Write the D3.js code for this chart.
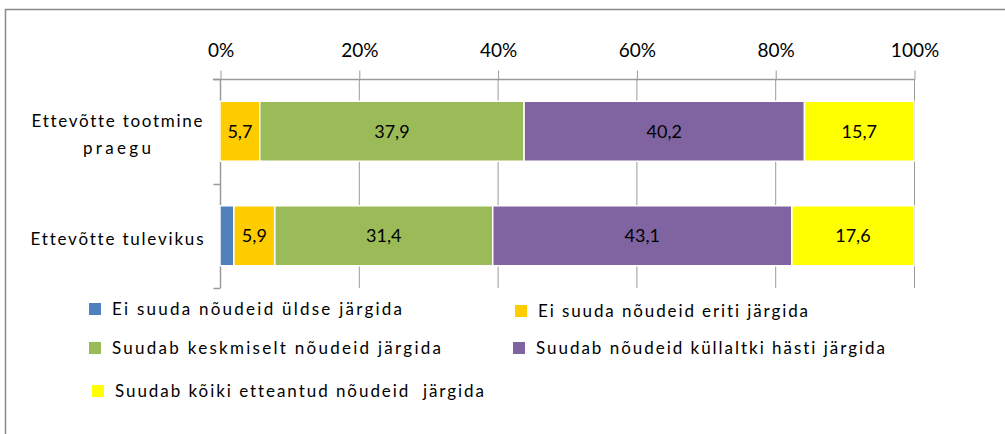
<!DOCTYPE html>
<html>
<head>
<meta charset="utf-8">
<script src="https://cdn.jsdelivr.net/npm/d3@7"></script>
<style>
  html, body { margin: 0; padding: 0; background: #fff; }
  svg { display: block; font-family: Lato, "Open Sans", sans-serif; font-variant-ligatures: none; }
</style>
</head>
<body>
<svg id="chart" width="1005" height="434"></svg>
<script>
// Survey categories (rows) and the five answer groups (stacked segments, %)
const categories = ["Ettevõtte tootmine praegu", "Ettevõtte tulevikus"];
const categoryLines = [["Ettevõtte tootmine", "praegu"], ["Ettevõtte tulevikus"]];
const seriesNames = [
  "Ei suuda nõudeid üldse järgida",
  "Ei suuda nõudeid eriti järgida",
  "Suudab keskmiselt nõudeid järgida",
  "Suudab nõudeid küllaltki hästi järgida",
  "Suudab kõiki etteantud nõudeid  järgida"
];
const eiUldse     = [0, 2.0];
const eiEriti     = [5.7, 5.9];
const keskmiselt  = [37.9, 31.4];
const kullaltki   = [40.2, 43.1];
const koiki       = [15.7, 17.6];
const seriesColors = ["#4F81BD", "#FFCC00", "#9BBB59", "#8064A2", "#FFFF00"];
const tickValues = [0, 0.2, 0.4, 0.6, 0.8, 1.0];

const seriesValues = [eiUldse, eiEriti, keskmiselt, kullaltki, koiki];
const keys = seriesNames.map((_, i) => "s" + i);
const rows = categories.map((c, r) => {
  const o = { category: c };
  keys.forEach((k, i) => o[k] = seriesValues[i][r]);
  return o;
});

const svg = d3.select("#chart");
const fmt = v => d3.format(".1f")(v).replace(".", ",");

// Outer frame (top and left edges)
svg.append("path")
  .attr("d", "M5.5,434 V9.5 H1005")
  .attr("fill", "none")
  .attr("stroke", "#8a8a8a")
  .attr("stroke-width", 1.5);

const plot = { left: 220, right: 914, top: 79, bottom: 288 };

const x = d3.scaleLinear().domain([0, 1]).range([plot.left, plot.right]);
const y = d3.scaleBand().domain(categories)
  .range([plot.top, plot.bottom])
  .paddingInner(0.426).paddingOuter(0.213);

// Normalised stack (100% stacked bars)
const stack = d3.stack().keys(keys).offset(d3.stackOffsetExpand);
const layers = stack(rows);

// Vertical gridlines
svg.append("g").selectAll("line")
  .data(tickValues.slice(1))
  .join("line")
  .attr("x1", d => x(d) + 0.5).attr("x2", d => x(d) + 0.5)
  .attr("y1", plot.top).attr("y2", plot.bottom)
  .attr("stroke", "#9a9a9a").attr("stroke-width", 1);

// Top value axis
const xAxis = svg.append("g")
  .attr("transform", `translate(0.5,${plot.top + 0.5})`)
  .call(d3.axisTop(x).tickValues(tickValues).tickFormat(d3.format(".0%")).tickSize(9).tickPadding(14));
xAxis.select(".domain").attr("d", `M${213 - 0.5},0H${plot.right}`).attr("stroke", "#9a9a9a").attr("stroke-width", 1.5);
xAxis.selectAll(".tick line").attr("stroke", "#9a9a9a");
xAxis.selectAll(".tick text")
  .attr("fill", "#000").attr("font-size", 19).attr("font-family", "Lato, sans-serif");

// Left category axis
const catAxis = svg.append("g").attr("transform", `translate(${plot.left + 0.5},0)`);
catAxis.append("line")
  .attr("x1", 0).attr("x2", 0).attr("y1", plot.top).attr("y2", plot.bottom)
  .attr("stroke", "#9a9a9a").attr("stroke-width", 1.5);
const bandEdges = [plot.top, (y(categories[0]) + y.bandwidth() + y(categories[1])) / 2, plot.bottom];
catAxis.selectAll("line.tick")
  .data(bandEdges)
  .join("line").attr("class", "tick")
  .attr("x1", -7).attr("x2", 0)
  .attr("y1", d => Math.round(d) + 0.5).attr("y2", d => Math.round(d) + 0.5)
  .attr("stroke", "#9a9a9a").attr("stroke-width", 1.5);

// Category labels (widely tracked text)
const catLineWidths = [[171, 68], [173]];
const catLabels = svg.append("g");
categories.forEach((c, i) => {
  const lines = categoryLines[i];
  const cy = y(c) + y.bandwidth() / 2 + 3;
  const lh = 27;
  lines.forEach((t, j) => {
    catLabels.append("text")
      .attr("x", 117)
      .attr("y", cy + (j - (lines.length - 1) / 2) * lh)
      .attr("dy", "0.35em")
      .attr("text-anchor", "middle")
      .attr("font-size", 17)
      .attr("fill", "#000")
      .attr("textLength", catLineWidths[i][j])
      .attr("lengthAdjust", "spacing")
      .text(t);
  });
});

// Bar segments
const barG = svg.append("g");
layers.forEach((layer, si) => {
  barG.append("g").selectAll("rect")
    .data(layer)
    .join("rect")
    .attr("x", d => x(d[0]))
    .attr("width", d => Math.max(0, x(d[1]) - x(d[0])))
    .attr("y", d => y(d.data.category))
    .attr("height", y.bandwidth())
    .attr("fill", seriesColors[si])
    .attr("stroke", "#fff")
    .attr("stroke-width", d => (d[1] - d[0]) > 0 ? 1.5 : 0);
});

// Value labels (the first group is left unlabelled)
layers.forEach((layer, si) => {
  if (si === 0) return;
  barG.append("g").selectAll("text")
    .data(layer)
    .join("text")
    .attr("x", d => (x(d[0]) + x(d[1])) / 2)
    .attr("y", d => y(d.data.category) + y.bandwidth() / 2)
    .attr("dy", "0.35em")
    .attr("text-anchor", "middle")
    .attr("font-size", 18)
    .attr("fill", "#000")
    .text(d => fmt(d.data[keys[si]]));
});

// Legend: two columns, three rows
const legendPos = [
  { x: 89, y: 303 }, { x: 515, y: 305 },
  { x: 89, y: 342 }, { x: 513, y: 342 },
  { x: 92, y: 385 }
];
const legendTextWidths = [290, 270, 329, 349, 369];
const legend = svg.append("g");
seriesNames.forEach((name, i) => {
  const p = legendPos[i];
  const g = legend.append("g").attr("transform", `translate(${p.x},${p.y})`);
  g.append("rect").attr("width", 12).attr("height", 12).attr("fill", seriesColors[i]);
  g.append("text")
    .attr("x", 23).attr("y", 6).attr("dy", "0.35em")
    .attr("font-size", 17).attr("fill", "#000")
    .attr("textLength", legendTextWidths[i])
    .attr("lengthAdjust", "spacing")
    .style("white-space", "pre")
    .text(name);
});
</script>
</body>
</html>
